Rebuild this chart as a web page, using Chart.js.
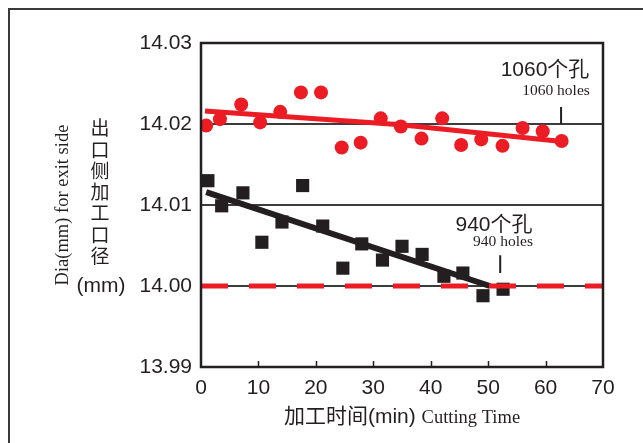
<!DOCTYPE html>
<html>
<head>
<meta charset="utf-8">
<script src="https://cdn.jsdelivr.net/npm/chart.js@4.4.1/dist/chart.umd.min.js"></script>
<style>
  html, body { margin: 0; padding: 0; background: #fff; }
  #wrap { position: relative; width: 643px; height: 443px; overflow: hidden; background: #fff; }
  #frame { position: absolute; left: 8px; top: 8px; width: 700px; height: 500px;
           border-left: 2px solid #3a3a3a; border-top: 2px solid #3a3a3a; }
  canvas { position: absolute; left: 0; top: 0; }
</style>
</head>
<body>
<div id="wrap">
  <div id="frame"></div>
  <canvas id="c" width="643" height="443"></canvas>
</div>
<script>
// Exit-side hole diameter (mm) against cutting time (min)
const timeTicks = [0, 10, 20, 30, 40, 50, 60, 70];
const diaTicks = [13.99, 14.00, 14.01, 14.02, 14.03];

// 1060 holes series (red circles)
const redTimes = [0.9, 3.3, 7.0, 10.3, 13.8, 17.4, 20.9, 24.5, 27.8, 31.3, 34.8, 38.4, 42.0, 45.3, 48.8, 52.5, 56.0, 59.5, 62.8];
const redDia   = [14.0198, 14.0206, 14.0224, 14.0202, 14.0215, 14.0239, 14.0239, 14.0171, 14.0177, 14.0207, 14.0197, 14.0182, 14.0207, 14.0174, 14.0181, 14.0173, 14.0195, 14.0191, 14.0179];

// 940 holes series (black squares)
const blackTimes = [1.2, 3.6, 7.3, 10.6, 14.1, 17.7, 21.2, 24.7, 28.0, 31.6, 35.0, 38.5, 42.3, 45.6, 49.1, 52.6];
const blackDia   = [14.0130, 14.0099, 14.0115, 14.0054, 14.0079, 14.0124, 14.0074, 14.0022, 14.0052, 14.0032, 14.0049, 14.0039, 14.0012, 14.0016, 13.9988, 13.9996];

// Trend lines
const redFitTimes = [0.7, 34.8, 62.0];
const redFitDia   = [14.0216, 14.0199, 14.0179];
const blackFitTimes = [0.9, 50.3];
const blackFitDia   = [14.0116, 14.0000];

// Target diameter reference line
const targetTimes = [0, 70];
const targetDia   = [14.00, 14.00];

// Leader marks for the series labels
const lead1060Times = [62.7, 62.7];
const lead1060Dia   = [14.0221, 14.0200];
const lead940Times  = [52.1, 52.1];
const lead940Dia    = [14.0038, 14.0016];

const RED = '#ec1c24';
const INK = '#231f20';
const SANS = '"Liberation Sans", Arial, "Noto Sans CJK SC", sans-serif';
const SERIF = '"Liberation Serif", "Times New Roman", serif';

const pts = (xs, ys) => xs.map((x, i) => ({ x, y: ys[i] }));

// Plot box, inward x ticks and free text
const decor = {
  id: 'decor',
  afterDatasetsDraw(chart) {
    const { ctx, chartArea: a, scales } = chart;
    const xs = scales.x;
    ctx.save();
    ctx.strokeStyle = INK;
    ctx.lineWidth = 1.5;
    timeTicks.slice(1, -1).forEach(t => {
      const px = Math.round(xs.getPixelForValue(t)) + 0.5;
      ctx.beginPath();
      ctx.moveTo(px, a.bottom);
      ctx.lineTo(px, a.bottom - 6);
      ctx.stroke();
    });
    ctx.lineWidth = 2.5;
    ctx.strokeRect(a.left, a.top, a.right - a.left, a.bottom - a.top);
    ctx.restore();
  },
  afterDraw(chart) {
    const { ctx, chartArea: a } = chart;
    ctx.save();
    ctx.fillStyle = INK;
    ctx.textBaseline = 'alphabetic';

    // series labels
    ctx.textAlign = 'center';
    ctx.font = '21px ' + SANS;
    ctx.fillText('1060个孔', 545, 76);
    ctx.fillText('940个孔', 494, 231);
    ctx.font = '15.5px ' + SERIF;
    ctx.fillText('1060 holes', 556, 95);
    ctx.fillText('940 holes', 503, 246);

    // x title: mixed fonts, centred on the plot
    const cx = (a.left + a.right) / 2;
    const p1 = '加工时间(min) ', p2 = 'Cutting Time';
    ctx.font = '21px ' + SANS;
    const w1 = ctx.measureText(p1).width;
    ctx.font = '18.5px ' + SERIF;
    const w2 = ctx.measureText(p2).width;
    let x0 = cx - (w1 + w2) / 2;
    ctx.textAlign = 'left';
    ctx.font = '21px ' + SANS;
    ctx.fillText(p1, x0, 423);
    ctx.font = '18.5px ' + SERIF;
    ctx.fillText(p2, x0 + w1, 423);

    // y title: stacked CJK characters with (mm) below
    ctx.textAlign = 'center';
    ctx.textBaseline = 'middle';
    ctx.font = '19px "Noto Sans CJK SC", sans-serif';
    const chars = ['出', '口', '侧', '加', '工', '口', '径'];
    chars.forEach((ch, i) => ctx.fillText(ch, 100, 128 + i * 21.3));
    ctx.textBaseline = 'alphabetic';
    ctx.font = '21px ' + SANS;
    ctx.fillText('(mm)', 101, 292);

    // rotated English y title
    ctx.translate(63, 205);
    ctx.rotate(-Math.PI / 2);
    ctx.font = '18.5px ' + SERIF;
    ctx.textBaseline = 'middle';
    ctx.fillText('Dia(mm) for exit side', 0, 0);
    ctx.restore();
  }
};

new Chart(document.getElementById('c'), {
  type: 'scatter',
  data: {
    datasets: [
      { data: pts(targetTimes, targetDia), showLine: true, borderColor: RED, borderWidth: 5,
        borderDash: [27, 21], borderCapStyle: 'butt', pointRadius: 0 },
      { data: pts(lead1060Times, lead1060Dia), showLine: true, borderColor: INK, borderWidth: 2, pointRadius: 0 },
      { data: pts(lead940Times, lead940Dia), showLine: true, borderColor: INK, borderWidth: 2, pointRadius: 0 },
      { data: pts(blackFitTimes, blackFitDia), showLine: true, borderColor: INK, borderWidth: 6,
        borderCapStyle: 'butt', pointRadius: 0 },
      { data: pts(redFitTimes, redFitDia), showLine: true, borderColor: RED, borderWidth: 5,
        borderCapStyle: 'butt', pointRadius: 0, tension: 0 },
      { data: pts(blackTimes, blackDia), pointStyle: 'rect', pointRadius: 9.3,
        backgroundColor: INK, borderColor: INK, borderWidth: 0 },
      { data: pts(redTimes, redDia), pointStyle: 'circle', pointRadius: 7,
        backgroundColor: RED, borderColor: RED, borderWidth: 0 }
    ]
  },
  options: {
    responsive: false,
    animation: false,
    events: [],
    layout: { padding: { left: 0, top: 43, right: 40, bottom: 0 } },
    plugins: { legend: { display: false }, tooltip: { enabled: false } },
    scales: {
      x: {
        type: 'linear', min: 0, max: 70,
        afterBuildTicks: s => { s.ticks = timeTicks.map(v => ({ value: v })); },
        afterFit: s => { s.height = 76; },
        grid: { display: false },
        border: { display: false },
        ticks: { color: INK, font: { family: SANS, size: 21 }, padding: 1, maxRotation: 0 }
      },
      y: {
        type: 'linear', min: 13.99, max: 14.03,
        afterBuildTicks: s => { s.ticks = diaTicks.map(v => ({ value: v })); },
        afterFit: s => { s.width = 201; },
        grid: {
          drawTicks: false,
          lineWidth: 2,
          color: ctx => (ctx.index === 0 || ctx.index === diaTicks.length - 1) ? 'rgba(0,0,0,0)' : '#3c3c3c'
        },
        border: { display: false },
        ticks: { color: INK, font: { family: SANS, size: 21 }, padding: 9,
                 callback: v => Number(v).toFixed(2) }
      }
    }
  },
  plugins: [decor]
});
</script>
</body>
</html>
